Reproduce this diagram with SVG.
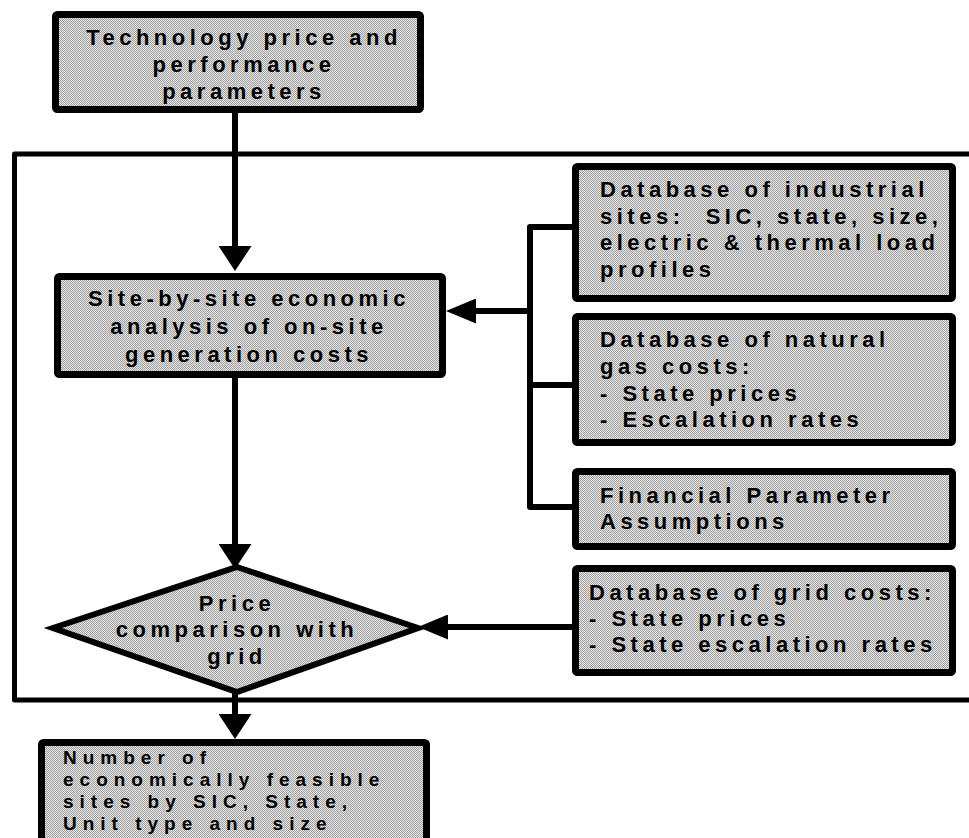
<svg xmlns="http://www.w3.org/2000/svg" width="969" height="838" viewBox="0 0 969 838">
<defs>
<pattern id="dither" width="2" height="2" patternUnits="userSpaceOnUse">
<rect width="2" height="2" fill="#e6e6e6"/>
<rect x="0" y="0" width="1" height="1" fill="#a0a0a0"/>
<rect x="1" y="1" width="1" height="1" fill="#a0a0a0"/>
</pattern>
<marker id="arrV" viewBox="0 0 25 33" refX="0" refY="16.5" markerWidth="25" markerHeight="33" markerUnits="userSpaceOnUse" orient="auto">
<path d="M0,0 L25,16.5 L0,33 Z" fill="#000"/>
</marker>
<marker id="arrH" viewBox="0 0 30 25" refX="0" refY="12.5" markerWidth="30" markerHeight="25" markerUnits="userSpaceOnUse" orient="auto">
<path d="M0,0 L30,12.5 L0,25 Z" fill="#000"/>
</marker>
</defs>
<style>
.box{fill:url(#dither);stroke:#000;stroke-width:7;stroke-linejoin:round}
.dia{fill:url(#dither);stroke:#000;stroke-width:6;stroke-linejoin:miter}
.frame{fill:none;stroke:#000;stroke-width:5;stroke-linejoin:round}
.ln{fill:none;stroke:#000;stroke-width:6;stroke-linejoin:round}
text{font-family:"Liberation Sans",Arial,sans-serif;font-weight:bold;font-size:22px;letter-spacing:4.5px;fill:#000;white-space:pre}
.c{text-anchor:middle}
.sm{font-size:19px;letter-spacing:6px}
</style>
<rect id="frame" class="frame" x="14.5" y="154" width="1000" height="546"/>
<g id="connectors">
<path class="ln" d="M235,113 V246" marker-end="url(#arrV)"/>
<path class="ln" d="M235,377 V544" marker-end="url(#arrV)"/>
<path class="ln" d="M235,692 V714" marker-end="url(#arrV)"/>
<path class="ln" d="M574,227 H530 V507 H574"/>
<path class="ln" d="M530,385 H574"/>
<path class="ln" d="M530,311 H476" marker-end="url(#arrH)"/>
<path class="ln" d="M574,627 H448" marker-end="url(#arrH)"/>
</g>
<g id="tech">
<rect class="box" x="55.5" y="14.5" width="365" height="95" rx="2"/>
<text class="c" x="244" y="45">Technology price and</text>
<text class="c" x="244" y="72">performance</text>
<text class="c" x="244" y="99">parameters</text>
</g>
<g id="site">
<rect class="box" x="57.5" y="276.5" width="385" height="98" rx="2"/>
<text class="c" x="249" y="306">Site-by-site economic</text>
<text class="c" x="249" y="334">analysis of on-site</text>
<text class="c" x="249" y="362">generation costs</text>
</g>
<g id="industrial">
<rect class="box" x="575.5" y="166.5" width="377" height="132" rx="2"/>
<text x="600" y="197">Database of industrial</text>
<text x="600" y="223.5">sites:  SIC, state, size,</text>
<text x="600" y="250">electric &amp; thermal load</text>
<text x="600" y="277">profiles</text>
</g>
<g id="gas">
<rect class="box" x="575.5" y="316.5" width="377" height="126" rx="2"/>
<text x="600" y="347">Database of natural</text>
<text x="600" y="374">gas costs:</text>
<text x="600" y="401">- State prices</text>
<text x="600" y="427">- Escalation rates</text>
</g>
<g id="financial">
<rect class="box" x="575.5" y="471.5" width="377" height="75" rx="2"/>
<text x="600" y="503">Financial Parameter</text>
<text x="600" y="529">Assumptions</text>
</g>
<g id="grid">
<rect class="box" x="575.5" y="568.5" width="377" height="104" rx="2"/>
<text x="589" y="600">Database of grid costs:</text>
<text x="589" y="626">- State prices</text>
<text x="589" y="652">- State escalation rates</text>
</g>
<g id="compare">
<polygon class="dia" points="237,567 418,628 237,692 53,628"/>
<text class="c" x="237" y="611">Price</text>
<text class="c" x="237" y="637">comparison with</text>
<text class="c" x="237" y="664">grid</text>
</g>
<g id="result">
<rect class="box" x="41.5" y="742.5" width="385" height="160" rx="2"/>
<text class="sm" x="63" y="764">Number of</text>
<text class="sm" x="63" y="786">economically feasible</text>
<text class="sm" x="63" y="808">sites by SIC, State,</text>
<text class="sm" x="63" y="830">Unit type and size</text>
</g>
</svg>
